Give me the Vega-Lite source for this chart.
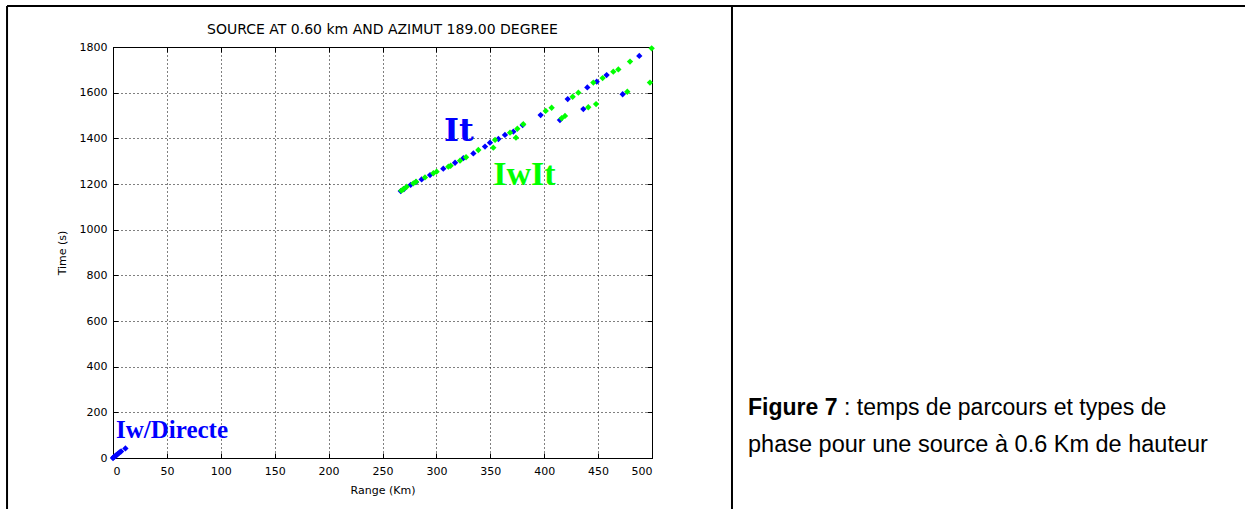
{
  "$schema": "https://vega.github.io/schema/vega-lite/v6.json",
  "width": 539,
  "height": 411,
  "autosize": {"type": "none"},
  "padding": {"left": 113, "top": 47, "right": 593, "bottom": 51},
  "background": "white",
  "config": {
    "view": {"stroke": "black", "strokeWidth": 1},
    "font": "DejaVu Sans",
    "axis": {
      "gridColor": "black",
      "gridOpacity": 1,
      "gridDash": [1, 3],
      "gridWidth": 1,
      "domainColor": "black",
      "tickColor": "black",
      "tickSize": -5,
      "labelColor": "black",
      "labelFontSize": 11,
      "labelFont": "DejaVu Sans",
      "titleFont": "DejaVu Sans",
      "titleFontSize": 11,
      "titleFontWeight": "normal",
      "titleColor": "black",
      "format": "d"
    }
  },
  "resolve": {"axis": {"x": "independent", "y": "independent"}},
  "datasets": {
    "pts": [
      {"range": 0, "time": 0, "phase": "Iw"},
      {"range": 0.5, "time": 3, "phase": "Iw"},
      {"range": 1.5, "time": 6, "phase": "Iw"},
      {"range": 2.5, "time": 10, "phase": "Iw"},
      {"range": 3.5, "time": 14, "phase": "Iw"},
      {"range": 4.5, "time": 18, "phase": "Iw"},
      {"range": 6, "time": 24, "phase": "Iw"},
      {"range": 7.5, "time": 29, "phase": "Iw"},
      {"range": 11.5, "time": 42, "phase": "Iw"},
      {"range": 266.9, "time": 1169, "phase": "It"},
      {"range": 270, "time": 1178, "phase": "It"},
      {"range": 276.1, "time": 1196, "phase": "It"},
      {"range": 281, "time": 1208, "phase": "It"},
      {"range": 286.3, "time": 1220, "phase": "It"},
      {"range": 294.1, "time": 1239, "phase": "It"},
      {"range": 306.4, "time": 1267, "phase": "It"},
      {"range": 317.3, "time": 1293, "phase": "It"},
      {"range": 325, "time": 1313, "phase": "It"},
      {"range": 334.3, "time": 1334, "phase": "It"},
      {"range": 345.1, "time": 1364, "phase": "It"},
      {"range": 349.7, "time": 1381, "phase": "It"},
      {"range": 357.5, "time": 1397, "phase": "It"},
      {"range": 363.6, "time": 1415, "phase": "It"},
      {"range": 371.4, "time": 1429, "phase": "It"},
      {"range": 380, "time": 1458, "phase": "It"},
      {"range": 396.7, "time": 1502, "phase": "It"},
      {"range": 414.6, "time": 1480, "phase": "It"},
      {"range": 421.8, "time": 1572, "phase": "It"},
      {"range": 436.3, "time": 1528, "phase": "It"},
      {"range": 440, "time": 1623, "phase": "It"},
      {"range": 448.7, "time": 1648, "phase": "It"},
      {"range": 457.9, "time": 1677, "phase": "It"},
      {"range": 472.8, "time": 1593, "phase": "It"},
      {"range": 488.2, "time": 1761, "phase": "It"},
      {"range": 267.5, "time": 1171, "phase": "IwIt"},
      {"range": 269.3, "time": 1177, "phase": "IwIt"},
      {"range": 272.4, "time": 1188, "phase": "IwIt"},
      {"range": 278.6, "time": 1203, "phase": "IwIt"},
      {"range": 281.1, "time": 1210, "phase": "IwIt"},
      {"range": 289.4, "time": 1229, "phase": "IwIt"},
      {"range": 297.2, "time": 1247, "phase": "IwIt"},
      {"range": 300.2, "time": 1254, "phase": "IwIt"},
      {"range": 311.1, "time": 1276, "phase": "IwIt"},
      {"range": 313.2, "time": 1280, "phase": "IwIt"},
      {"range": 321.9, "time": 1302, "phase": "IwIt"},
      {"range": 327.5, "time": 1317, "phase": "IwIt"},
      {"range": 338.9, "time": 1349, "phase": "IwIt"},
      {"range": 354.4, "time": 1393, "phase": "IwIt"},
      {"range": 368.3, "time": 1425, "phase": "IwIt"},
      {"range": 375.1, "time": 1442, "phase": "IwIt"},
      {"range": 380.6, "time": 1462, "phase": "IwIt"},
      {"range": 352.8, "time": 1359, "phase": "IwIt"},
      {"range": 373.8, "time": 1403, "phase": "IwIt"},
      {"range": 401.4, "time": 1520, "phase": "IwIt"},
      {"range": 406.9, "time": 1534, "phase": "IwIt"},
      {"range": 416.2, "time": 1488, "phase": "IwIt"},
      {"range": 419.3, "time": 1498, "phase": "IwIt"},
      {"range": 426.4, "time": 1582, "phase": "IwIt"},
      {"range": 431.7, "time": 1600, "phase": "IwIt"},
      {"range": 440.9, "time": 1536, "phase": "IwIt"},
      {"range": 448.1, "time": 1550, "phase": "IwIt"},
      {"range": 445.6, "time": 1644, "phase": "IwIt"},
      {"range": 454.2, "time": 1664, "phase": "IwIt"},
      {"range": 464.1, "time": 1692, "phase": "IwIt"},
      {"range": 468.8, "time": 1702, "phase": "IwIt"},
      {"range": 477.1, "time": 1604, "phase": "IwIt"},
      {"range": 479.6, "time": 1736, "phase": "IwIt"},
      {"range": 498.1, "time": 1644, "phase": "IwIt"},
      {"range": 499.7, "time": 1794, "phase": "IwIt"}
    ],
    "one": [{}]
  },
  "layer": [
    {
      "data": {"name": "pts"},
      "mark": {"type": "point", "filled": true, "shape": "diamond", "size": 40, "opacity": 1},
      "encoding": {
        "x": {
          "field": "range",
          "type": "quantitative",
          "scale": {"domain": [0, 500], "nice": false},
          "axis": {
            "values": [0, 50, 100, 150, 200, 250, 300, 350, 400, 450, 500],
            "title": "Range (Km)",
            "grid": true,
            "labelPadding": 12,
            "titlePadding": 8
          }
        },
        "y": {
          "field": "time",
          "type": "quantitative",
          "scale": {"domain": [0, 1800], "nice": false},
          "axis": {
            "values": [0, 200, 400, 600, 800, 1000, 1200, 1400, 1600, 1800],
            "title": "Time (s)",
            "grid": true,
            "labelPadding": 11,
            "titlePadding": 12
          }
        },
        "color": {
          "field": "phase",
          "type": "nominal",
          "scale": {"domain": ["Iw", "It", "IwIt"], "range": ["#0000ff", "#0000ff", "#00ff00"]},
          "legend": null
        },
        "order": {"field": "phase", "sort": "ascending"}
      }
    },
    {
      "data": {"name": "pts"},
      "mark": {"type": "point", "opacity": 0, "size": 1},
      "encoding": {
        "x": {
          "field": "range",
          "type": "quantitative",
          "axis": {
            "orient": "top",
            "values": [0, 50, 100, 150, 200, 250, 300, 350, 400, 450, 500],
            "labels": false,
            "grid": false,
            "title": null
          }
        },
        "y": {
          "field": "time",
          "type": "quantitative",
          "axis": {
            "orient": "right",
            "values": [0, 200, 400, 600, 800, 1000, 1200, 1400, 1600, 1800],
            "labels": false,
            "grid": false,
            "title": null
          }
        }
      }
    },
    {
      "data": {"name": "one"},
      "mark": {"type": "text", "font": "DejaVu Sans", "fontSize": 14, "color": "black", "align": "center", "baseline": "middle"},
      "encoding": {"x": {"datum": 250, "axis": null}, "y": {"datum": 1874, "axis": null}, "text": {"value": "SOURCE AT 0.60 km AND AZIMUT 189.00 DEGREE"}}
    },
    {
      "data": {"name": "one"},
      "mark": {"type": "text", "font": "DejaVu Serif", "fontWeight": "bold", "fontSize": 32, "color": "#0000ff", "align": "left", "baseline": "alphabetic"},
      "encoding": {"x": {"datum": 307, "axis": null}, "y": {"datum": 1388, "axis": null}, "text": {"value": "It"}}
    },
    {
      "data": {"name": "one"},
      "mark": {"type": "text", "font": "Liberation Serif", "fontWeight": "bold", "fontSize": 34, "color": "#00ff00", "align": "left", "baseline": "alphabetic"},
      "encoding": {"x": {"datum": 352.8, "axis": null}, "y": {"datum": 1196, "axis": null}, "text": {"value": "IwIt"}}
    },
    {
      "data": {"name": "one"},
      "mark": {"type": "text", "font": "Liberation Serif", "fontWeight": "bold", "fontSize": 25, "color": "#0000ff", "align": "left", "baseline": "alphabetic"},
      "encoding": {"x": {"datum": 2.8, "axis": null}, "y": {"datum": 86, "axis": null}, "text": {"value": "Iw/Directe"}}
    },
    {
      "data": {"name": "one"},
      "mark": {"type": "text", "font": "Liberation Sans", "fontWeight": "bold", "fontSize": 23, "color": "black", "align": "left", "baseline": "middle"},
      "encoding": {"x": {"datum": 589.1, "axis": null}, "y": {"datum": 219, "axis": null}, "text": {"value": "Figure 7"}}
    },
    {
      "data": {"name": "one"},
      "mark": {"type": "text", "font": "Liberation Sans", "fontSize": 23, "color": "black", "align": "left", "baseline": "middle", "dx": 96},
      "encoding": {"x": {"datum": 589.1, "axis": null}, "y": {"datum": 219, "axis": null}, "text": {"value": ": temps de parcours et types de"}}
    },
    {
      "data": {"name": "one"},
      "mark": {"type": "text", "font": "Liberation Sans", "fontSize": 23.5, "color": "black", "align": "left", "baseline": "middle"},
      "encoding": {"x": {"datum": 589.1, "axis": null}, "y": {"datum": 57, "axis": null}, "text": {"value": "phase pour une source à 0.6 Km de hauteur"}}
    },
    {
      "data": {"name": "one"},
      "mark": {"type": "rule", "color": "black", "strokeWidth": 2},
      "encoding": {"x": {"datum": -98.3, "axis": null}, "x2": {"datum": 1060}, "y": {"datum": 1979.6, "axis": null}}
    },
    {
      "data": {"name": "one"},
      "mark": {"type": "rule", "color": "black", "strokeWidth": 2},
      "encoding": {"x": {"datum": -98.3, "axis": null}, "y": {"datum": 1979.6, "axis": null}, "y2": {"datum": -240}}
    },
    {
      "data": {"name": "one"},
      "mark": {"type": "rule", "color": "black", "strokeWidth": 2},
      "encoding": {"x": {"datum": 574.2, "axis": null}, "y": {"datum": 1979.6, "axis": null}, "y2": {"datum": -240}}
    }
  ]
}
